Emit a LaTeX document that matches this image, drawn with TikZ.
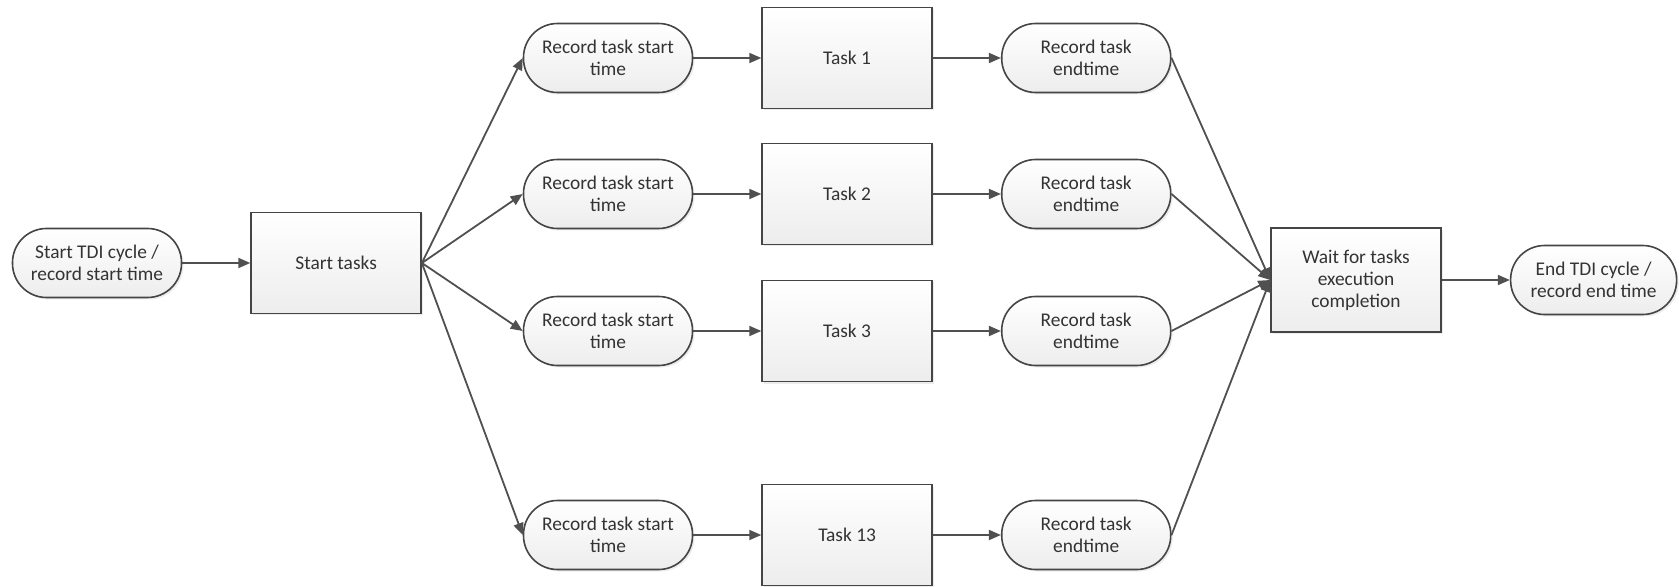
\documentclass[tikz,border=0pt]{standalone}
\usepackage{fontspec}
\setmainfont{Carlito}
\usepackage{xcolor}
\definecolor{cLine}{HTML}{454545}
\definecolor{cArrow}{HTML}{505050}
\definecolor{cFill}{HTML}{EDEDED}
\definecolor{cText}{HTML}{333333}
\usetikzlibrary{positioning,arrows.meta,shadows}
\tikzset{
  node-base/.style={draw=cLine,line width=0.8pt,top color=white,bottom color=cFill,
    align=center,text=cText,font=\fontsize{9.7}{11}\selectfont,
    drop shadow={opacity=0.15,shadow xshift=1pt,shadow yshift=-1pt}},
  node-term/.style={node-base,rounded corners=17pt,
    minimum height=34.5pt,minimum width=84.5pt,inner sep=1pt},
  node-box/.style={node-base,minimum height=50.5pt,minimum width=85pt},
  arrow/.style={-{Triangle[length=6pt,width=5pt]},line width=0.9pt,draw=cArrow},
}

\begin{document}
\begin{tikzpicture}[x=0.5pt,y=-0.5pt,node distance=34pt]
  \useasboundingbox (0,0) rectangle (1679,587);
  \node[node-term] (start) at (97,263) {Start TDI cycle /\\record start time};
  \node[node-box,right=of start] (tasks) {Start tasks};

  % row 1
  \node[node-term] (rs1) at (608,58) {Record task start\\time};
  \node[node-box,right=of rs1] (t1) {Task 1};
  \node[node-term,right=of t1] (re1) {Record task\\endtime};
  % row 2
  \node[node-term] (rs2) at (608,194) {Record task start\\time};
  \node[node-box,right=of rs2] (t2) {Task 2};
  \node[node-term,right=of t2] (re2) {Record task\\endtime};
  % row 3
  \node[node-term] (rs3) at (608,331) {Record task start\\time};
  \node[node-box,right=of rs3] (t3) {Task 3};
  \node[node-term,right=of t3] (re3) {Record task\\endtime};
  % row 13
  \node[node-term] (rs4) at (608,535) {Record task start\\time};
  \node[node-box,right=of rs4] (t4) {Task 13};
  \node[node-term,right=of t4] (re4) {Record task\\endtime};

  \node[node-box,minimum height=52pt] (wait) at (1356,280) {Wait for tasks\\execution\\completion};
  \node[node-term,minimum width=83pt,right=of wait] (end) {End TDI cycle /\\record end time};

  \draw[arrow] (start) -- (tasks);
  \draw[arrow] (tasks.east) -- (rs1.west);
  \draw[arrow] (tasks.east) -- (rs2.west);
  \draw[arrow] (tasks.east) -- (rs3.west);
  \draw[arrow] (tasks.east) -- (rs4.west);
  \draw[arrow] (rs1) -- (t1);
  \draw[arrow] (t1) -- (re1);
  \draw[arrow] (rs2) -- (t2);
  \draw[arrow] (t2) -- (re2);
  \draw[arrow] (rs3) -- (t3);
  \draw[arrow] (t3) -- (re3);
  \draw[arrow] (rs4) -- (t4);
  \draw[arrow] (t4) -- (re4);
  \draw[arrow] (re1.east) -- (wait.west);
  \draw[arrow] (re2.east) -- (wait.west);
  \draw[arrow] (re3.east) -- (wait.west);
  \draw[arrow] (re4.east) -- (wait.west);
  \draw[arrow] (wait) -- (end);
\end{tikzpicture}
\end{document}
